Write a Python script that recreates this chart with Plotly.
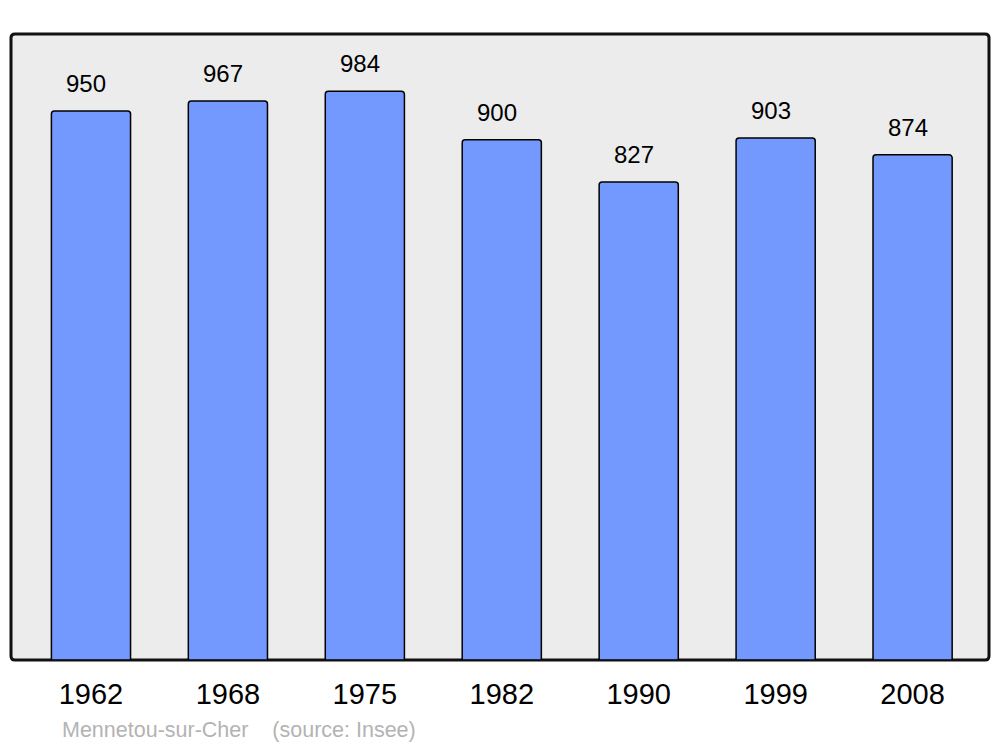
import plotly.graph_objects as go

years = ["1962", "1968", "1975", "1982", "1990", "1999", "2008"]
population = [950, 967, 984, 900, 827, 903, 874]

BAR_COLOR = "#7399ff"
BG_COLOR = "#ececec"
FONT = "Liberation Sans, Arial, sans-serif"

# the page puts the figure 8px in from the top-left corner
W, H = 978, 626
rx, ry = 4 / W, 4 / H
frame = (f"M {rx},0 L {1-rx},0 Q 1,0 1,{ry} L 1,{1-ry} Q 1,1 {1-rx},1 "
         f"L {rx},1 Q 0,1 0,{1-ry} L 0,{ry} Q 0,0 {rx},0 Z")

fig = go.Figure()
fig.add_trace(go.Bar(
    x=years, y=population, width=0.578,
    marker=dict(color=BAR_COLOR, line=dict(color="black", width=1.5), cornerradius=3),
    hoverinfo="x+y",
))

for i, val in enumerate(population):
    fig.add_annotation(x=i, y=val, text=str(val), showarrow=False,
                       yanchor="bottom", yshift=12, xshift=-5,
                       font=dict(size=24, color="black", family=FONT))

fig.add_annotation(xref="paper", yref="paper", x=(60 - 11) / W, y=(660 - 730) / H,
                   xanchor="left", yanchor="middle", showarrow=False,
                   text="Mennetou-sur-Cher    (source: Insee)",
                   font=dict(size=21.5, color="#b3b3b3", family=FONT))

fig.add_shape(type="path", path=frame, xref="paper", yref="paper",
              fillcolor=BG_COLOR, line=dict(color="#111111", width=3), layer="below")

fig.update_xaxes(type="category", range=[-0.584, 6.558], showgrid=False, zeroline=False,
                 showline=False, ticks="", ticklabelstandoff=14,
                 tickfont=dict(size=29, color="black", family=FONT))
fig.update_yaxes(range=[0, 1083], showgrid=False, zeroline=False, showline=False,
                 showticklabels=False, ticks="")

fig.update_layout(
    width=992, height=739,
    margin=dict(l=3, r=11, t=26, b=87),
    paper_bgcolor="white", plot_bgcolor="rgba(0,0,0,0)",
    showlegend=False, bargap=0.42,
    font=dict(family=FONT),
)

fig.write_html("out.html")
